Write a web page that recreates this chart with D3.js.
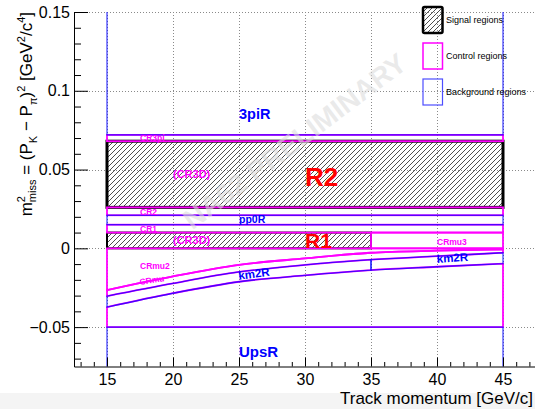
<!DOCTYPE html>
<html><head><meta charset="utf-8">
<script src="https://cdn.jsdelivr.net/npm/d3@7"></script>
<style>body{margin:0;background:#fff}svg{display:block;font-family:"Liberation Sans",Arial,Helvetica,sans-serif}</style>
</head><body><svg id="c" width="535" height="409"></svg>
<script>
// ---- data ----
const xMajorTicks = [15, 20, 25, 30, 35, 40, 45];
const yMajorTicks = [-0.05, 0, 0.05, 0.1, 0.15];
const yTickLabels = ["\u22120.05", "0", "0.05", "0.1", "0.15"];
const curveMomentum = [15, 20, 25, 30, 35, 40, 45];
const crmuBoundary = [-0.0265, -0.0178, -0.0105, -0.0064, -0.0028, -0.0015, -0.0007];
const km2Upper = [-0.0303, -0.0222, -0.0150, -0.0105, -0.0072, -0.0050, -0.0028];
const km2Lower = [-0.0373, -0.0285, -0.0212, -0.0171, -0.0138, -0.0117, -0.0097];
const signalRegions = [
  {name: "R1", x0: 15, x1: 35, y0: 0, y1: 0.010, w: 2},
  {name: "R2", x0: 15, x1: 45, y0: 0.026, y1: 0.068, w: 3}
];
const controlRects = [
  {name: "CR3pi", x0: 15, x1: 45, y0: 0.068, y1: 0.072},
  {name: "CR2", x0: 15, x1: 45, y0: 0.021, y1: 0.026},
  {name: "CR1", x0: 15, x1: 45, y0: 0.010, y1: 0.015},
  {name: "CRmu3", x0: 35, x1: 45, y0: 0, y1: 0.010}
];
const backgroundRects = [
  {name: "3piR", x0: 15, x1: 45, y0: 0.072, y1: 0.20},
  {name: "pp0R", x0: 15, x1: 45, y0: 0.015, y1: 0.021},
  {name: "UpsR", x0: 15, x1: 45, y0: -0.12, y1: -0.05}
];
const labels = [
  {t: "3piR", x: 25, y: 0.082, c: "#0000ff", s: 14.5, r: 0},
  {t: "R2", x: 30, y: 0.0397, c: "#ff0000", s: 26, r: 0},
  {t: "(CR3D)", x: 20, y: 0.0447, c: "#ff00ff", s: 11, r: 0},
  {t: "CR3pi", x: 17.5, y: 0.0680, c: "#ff00ff", s: 8.5, r: 0},
  {t: "CR2", x: 17.5, y: 0.0212, c: "#ff00ff", s: 8.5, r: 0},
  {t: "pp0R", x: 25, y: 0.0162, c: "#0000ff", s: 10.5, r: 0},
  {t: "CR1", x: 17.5, y: 0.0104, c: "#ff00ff", s: 8.5, r: 0},
  {t: "(CR3D)", x: 20, y: 0.0028, c: "#ff00ff", s: 11, r: 0},
  {t: "R1", x: 30, y: 0.0001, c: "#ff0000", s: 21, r: 0},
  {t: "CRmu3", x: 40, y: 0.0021, c: "#ff00ff", s: 8.5, r: 0},
  {t: "CRmu2", x: 17.5, y: -0.0131, c: "#ff00ff", s: 8.5, r: 0},
  {t: "CRmu", x: 17.5, y: -0.0233, c: "#ff00ff", s: 8.5, r: -9},
  {t: "km2R", x: 25, y: -0.0200, c: "#0000ff", s: 11.5, r: -8},
  {t: "km2R", x: 40, y: -0.0093, c: "#0000ff", s: 11.5, r: -4},
  {t: "UpsR", x: 25, y: -0.0690, c: "#0000ff", s: 15, r: 0}
];
const legendItems = [
  {t: "Signal regions", kind: "signal"},
  {t: "Control regions", kind: "control"},
  {t: "Background regions", kind: "background"}
];

// ---- layout ----
const svg = d3.select("#c");
const x = d3.scaleLinear().domain([12.5, 47.5]).range([74, 536]);
const y = d3.scaleLinear().domain([-0.075, 0.15]).range([366.5, 12]);
const MAG = "#ff00ff", BLU = "#0000ff";

svg.append("rect").attr("x", 0).attr("y", 393).attr("width", 535).attr("height", 16).attr("fill", "#f4f4f4");

const defs = svg.append("defs");
const pat = defs.append("pattern").attr("id", "hatch").attr("patternUnits", "userSpaceOnUse")
  .attr("width", 5).attr("height", 5);
pat.append("path").attr("d", "M-1,1 L1,-1 M0,5 L5,0 M4,6 L6,4").attr("stroke", "#222").attr("stroke-width", 0.8);
defs.append("clipPath").attr("id", "plotclip").append("rect")
  .attr("x", 74).attr("y", 12).attr("width", 462).attr("height", 354.5);

// grid
const grid = svg.append("g").attr("stroke", "#8a8a8a").attr("stroke-width", 1).attr("stroke-dasharray", "1,2");
grid.selectAll("line.h").data(yMajorTicks).join("line").attr("class", "h")
  .attr("x1", 74).attr("x2", 536).attr("y1", d => Math.round(y(d)) + 0.5).attr("y2", d => Math.round(y(d)) + 0.5);
grid.selectAll("line.v").data(xMajorTicks).join("line").attr("class", "v")
  .attr("y1", 12).attr("y2", 366).attr("x1", d => Math.round(x(d)) + 0.5).attr("x2", d => Math.round(x(d)) + 0.5);

const plot = svg.append("g").attr("clip-path", "url(#plotclip)");

const rectOf = (g, d) => g.append("rect").attr("x", x(d.x0)).attr("y", y(d.y1))
  .attr("width", x(d.x1) - x(d.x0)).attr("height", y(d.y0) - y(d.y1));

// signal regions
signalRegions.forEach(d => rectOf(plot, d).attr("fill", "url(#hatch)").attr("stroke", "#000").attr("stroke-width", d.w));

// control regions (magenta)
const areaGen = d3.area().x(d => x(d.p)).y0(d => y(d.a)).y1(d => y(d.b)).curve(d3.curveMonotoneX);
const pts = (A, B, i0, i1) => curveMomentum.map((p, i) => ({p, a: typeof A === "number" ? A : A[i], b: typeof B === "number" ? B : B[i]})).slice(i0, i1);
const ctrl = plot.append("g").attr("fill", "none").attr("stroke", MAG).attr("stroke-width", 1.8);
controlRects.forEach(d => rectOf(ctrl, d));
ctrl.append("path").attr("d", areaGen(pts(crmuBoundary, 0, 0, 7)));
ctrl.append("path").attr("d", areaGen(pts(km2Upper, crmuBoundary, 0, 7)));
ctrl.append("path").attr("d", areaGen(pts(-0.05, km2Lower, 0, 7)));

// background regions (blue)
const bg = plot.append("g").attr("fill", "none").attr("stroke", BLU).attr("stroke-width", 1.3).attr("stroke-opacity", 0.72);
backgroundRects.forEach(d => rectOf(bg, d));
bg.append("path").attr("d", areaGen(pts(km2Lower, km2Upper, 0, 5)));
bg.append("path").attr("d", areaGen(pts(km2Lower, km2Upper, 4, 7)));

// watermark
svg.append("text").attr("transform", "translate(296,143) rotate(-37)").attr("text-anchor", "middle")
  .attr("dominant-baseline", "middle").attr("font-size", 28).attr("font-weight", "bold")
  .attr("fill", "#dcdcdc").attr("fill-opacity", 0.6).text("NA62 PRELIMINARY");

// region labels
svg.append("g").selectAll("text").data(labels).join("text")
  .attr("transform", d => `translate(${x(d.x)},${y(d.y)}) rotate(${d.r})`)
  .attr("font-size", d => d.s).attr("font-weight", "bold").attr("fill", d => d.c).text(d => d.t);

// axes
const yMinor = d3.range(-7, 16).map(i => i / 100).filter(v => !yMajorTicks.some(m => Math.abs(m - v) < 1e-9));
const xMinor = d3.range(13, 48).filter(v => !xMajorTicks.includes(v));
const ax = svg.append("g").attr("font-family", null);
const yAxisG = ax.append("g").attr("transform", "translate(74,0)")
  .call(d3.axisLeft(y).tickValues(yMajorTicks).tickSize(-14).tickSizeOuter(0).tickPadding(4)
    .tickFormat((d, i) => yTickLabels[i]));
ax.append("g").attr("transform", "translate(74,0)")
  .call(d3.axisLeft(y).tickValues(yMinor).tickSize(-7).tickSizeOuter(0).tickFormat(""))
  .select(".domain").remove();
const xAxisG = ax.append("g").attr("transform", "translate(0,366.5)")
  .call(d3.axisBottom(x).tickValues(xMajorTicks).tickSize(-9).tickSizeOuter(0).tickPadding(7));
ax.append("g").attr("transform", "translate(0,366.5)")
  .call(d3.axisBottom(x).tickValues(xMinor).tickSize(-4.5).tickSizeOuter(0).tickFormat(""))
  .select(".domain").remove();
ax.selectAll("text").attr("font-family", "Liberation Sans, Arial, sans-serif").attr("font-size", 16).attr("fill", "#000");
ax.selectAll("line, path").attr("stroke", "#000").attr("stroke-width", 1);

// axis titles
svg.append("text").attr("x", 533).attr("y", 404).attr("text-anchor", "end").attr("font-size", 17)
  .text("Track momentum [GeV/c]");
const yt = svg.append("text").attr("transform", "translate(32,12) rotate(-90)").attr("text-anchor", "end").attr("font-size", 17);
const parts = [
  ["m", 17, 0, 0], ["2", 11, -7, 0], ["miss", 11, 11, -6.1], [" = (P", 17, -4, 0], ["K", 11, 5, 0],
  [" \u2212 P", 17, -5, 0], ["\u03c0", 11, 5, 0], [")", 17, -5, 0], ["2", 11, -7, 0],
  [" [GeV", 17, 7, 0], ["2", 11, -7, 0], ["/c", 17, 7, 0], ["4", 11, -7, 0], ["]", 17, 7, 0]
];
parts.forEach(([t, s, dy, dx]) => yt.append("tspan").attr("font-size", s).attr("dy", dy).attr("dx", dx).text(t));

// legend
const lg = svg.append("g");
legendItems.forEach((d, i) => {
  const top = 7 + i * 36;
  const r = lg.append("rect").attr("x", 423).attr("y", top).attr("width", 19.5).attr("height", 26);
  if (d.kind === "signal") r.attr("fill", "url(#hatch)").attr("stroke", "#000").attr("stroke-width", 2.5).attr("rx", 1.5);
  else if (d.kind === "control") r.attr("fill", "none").attr("stroke", MAG).attr("stroke-width", 1.5);
  else r.attr("fill", "none").attr("stroke", "#4d4dff").attr("stroke-width", 1.2);
  lg.append("text").attr("x", 446).attr("y", top + 16).attr("font-size", 9).text(d.t);
});
</script></body></html>
